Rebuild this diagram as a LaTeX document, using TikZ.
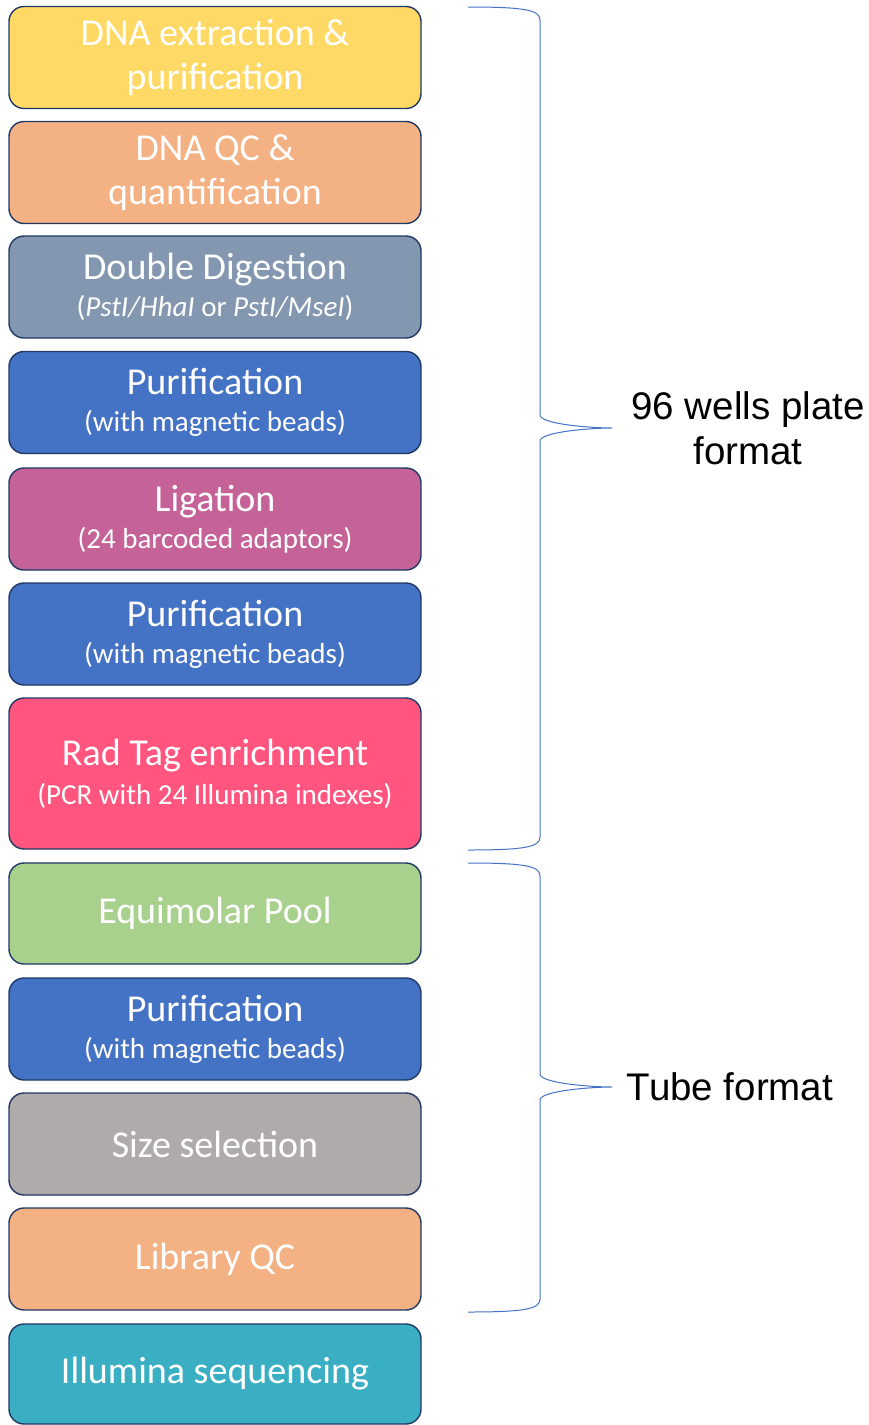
\documentclass[tikz,border=0pt]{standalone}
\usepackage{fontspec}
\setmainfont{Carlito}
\newfontfamily\arialfont{Liberation Sans}
\definecolor{cyellow}{HTML}{FFD966}
\definecolor{corange}{HTML}{F4B183}
\definecolor{cslate}{HTML}{8497B0}
\definecolor{cblue}{HTML}{4472C4}
\definecolor{cmag}{HTML}{C56297}
\definecolor{cpink}{HTML}{FF557E}
\definecolor{cgreen}{HTML}{A9D18E}
\definecolor{cgray}{HTML}{AFABAB}
\definecolor{cteal}{HTML}{3AAFC4}
\definecolor{cnavy}{HTML}{1F3864}
\definecolor{cbrace}{HTML}{4472C4}
\newcommand{\mainsz}{\fontsize{38}{44}\selectfont}
\newcommand{\subsz}{\fontsize{29}{34}\selectfont}
\begin{document}
\begin{tikzpicture}[x=1pt,y=-1pt,
  stepbox/.style={draw=cnavy, line width=1.4pt, rounded corners=15pt,
    minimum width=412pt, text=white, align=center, inner sep=0pt,
    font=\mainsz},
  bracepath/.style={draw=cbrace, line width=1pt},
  sidelabel/.style={font=\arialfont\fontsize{38.5}{45}\selectfont, align=center, text=black}]
\useasboundingbox[fill=white] (0,0) rectangle (868,1425);

\node[stepbox, fill=cyellow, minimum height=102pt] (n1) at (215,57.5) {DNA extraction \&\\purification};
\node[stepbox, fill=corange, minimum height=102pt] (n2) at (215,172.5) {DNA QC \&\\quantification};
\node[stepbox, fill=cslate, minimum height=102pt] (n3) at (215,287) {Double Digestion\\[-7pt]{\subsz(\textit{PstI/HhaI} or \textit{PstI/MseI})}};
\node[stepbox, fill=cblue, minimum height=102pt] (n4) at (215,402.5) {Purification\\[-7pt]{\subsz(with magnetic beads)}};
\node[stepbox, fill=cmag, minimum height=102pt] (n5) at (215,519) {Ligation\\[-7pt]{\subsz(24 barcoded adaptors)}};
\node[stepbox, fill=cblue, minimum height=102pt] (n6) at (215,634) {Purification\\[-7pt]{\subsz(with magnetic beads)}};
\node[stepbox, fill=cpink, minimum height=151pt] (n7) at (215,773.5) {Rad Tag enrichment\\[-5pt]{\subsz(PCR with 24 Illumina indexes)}};
\node[stepbox, fill=cgreen, minimum height=101pt] (n8) at (215,913.5) {Equimolar Pool};
\node[stepbox, fill=cblue, minimum height=102pt] (n9) at (215,1029) {Purification\\[-7pt]{\subsz(with magnetic beads)}};
\node[stepbox, fill=cgray, minimum height=102pt] (n10) at (215,1144) {Size selection};
\node[stepbox, fill=corange, minimum height=102pt] (n11) at (215,1259) {Library QC};
\node[stepbox, fill=cteal, minimum height=100pt] (n12) at (215,1374) {Illumina sequencing};

% braces
\draw[bracepath] (468,7) .. controls (525,7) and (540,10) .. (540,20) -- (540,415)
  .. controls (540,424) and (590,428) .. (612,428)
  .. controls (590,428) and (540,432) .. (540,441) -- (540,837)
  .. controls (540,847) and (525,850) .. (468,850);
\draw[bracepath] (468,863) .. controls (525,863) and (540,866) .. (540,876) -- (540,1074)
  .. controls (540,1083) and (590,1087) .. (612,1087)
  .. controls (590,1087) and (540,1091) .. (540,1100) -- (540,1299)
  .. controls (540,1309) and (525,1312) .. (468,1312);

\node[sidelabel] (plate) at (748,428) {96 wells plate\\format};
\node[sidelabel] (tube) at (730,1087) {Tube format};
\end{tikzpicture}
\end{document}
